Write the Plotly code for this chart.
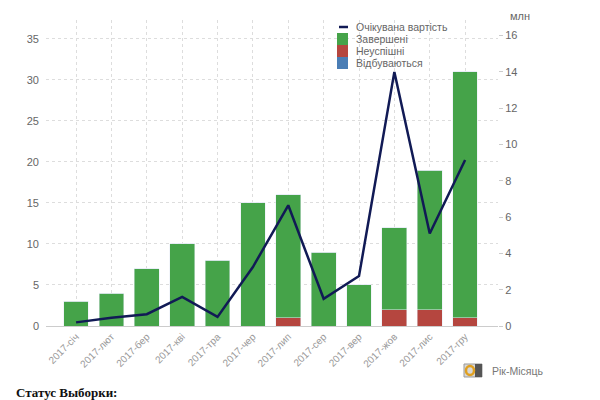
import plotly.graph_objects as go

months = ["2017-січ", "2017-лют", "2017-бер", "2017-кві", "2017-тра", "2017-чер",
          "2017-лип", "2017-сер", "2017-вер", "2017-жов", "2017-лис", "2017-гру"]
completed = [3, 4, 7, 10, 8, 15, 15, 9, 5, 10, 17, 30]
failed = [0, 0, 0, 0, 0, 0, 1, 0, 0, 2, 2, 1]
ongoing = [0, 0, 0, 0, 0, 0, 0, 0, 0, 0, 0, 0]
expected_value_mln = [0.2, 0.45, 0.65, 1.6, 0.5, 3.25, 6.65, 1.5, 2.75, 14.0, 5.1, 9.15]

GREEN = "#45a349"
RED = "#b5463f"
BLUE = "#4a7db5"
NAVY = "#111a55"
FONT = "Liberation Sans, Arial, sans-serif"

W, H = 600, 400
L, R, T, B = 38, 490, 12, 318  # plot area in pixels


def px(x):
    return (x - L) / (R - L)


def py(y):
    return (B - y) / (B - T)


fig = go.Figure()
fig.add_trace(go.Scatter(x=months, y=expected_value_mln, name="Очікувана вартість",
                         mode="lines", line=dict(color=NAVY, width=2.5), yaxis="y2"))
fig.add_trace(go.Bar(x=months, y=failed, name="Неуспішні", marker_color=RED))
fig.add_trace(go.Bar(x=months, y=completed, name="Завершені", marker_color=GREEN))
fig.add_trace(go.Bar(x=months, y=ongoing, name="Відбуваються", marker_color=BLUE))

legend_items = [("Очікувана вартість", NAVY, "line"), ("Завершені", GREEN, "box"),
                ("Неуспішні", RED, "box"), ("Відбуваються", BLUE, "box")]

annotations = []
shapes = []
for i, (name, color, kind) in enumerate(legend_items):
    yc = 19 + 12 * i
    if kind == "line":
        shapes.append(dict(type="line", xref="paper", yref="paper",
                           x0=px(331), x1=px(340), y0=py(yc), y1=py(yc),
                           line=dict(color=color, width=2.5)))
    else:
        shapes.append(dict(type="rect", xref="paper", yref="paper",
                           x0=px(329), x1=px(340), y0=py(yc + 6), y1=py(yc - 6),
                           fillcolor=color, line=dict(width=0)))
    annotations.append(dict(text=name, xref="paper", yref="paper", x=px(346), y=py(yc),
                            xanchor="left", yanchor="middle", showarrow=False,
                            font=dict(size=10.5, color="#666")))

annotations += [
    dict(text="млн", xref="paper", yref="paper", x=px(500), y=py(0),
         xanchor="left", yanchor="top", showarrow=False,
         font=dict(size=11, color="#666")),
    dict(text="Рік-Місяць", xref="paper", yref="paper", x=px(482), y=py(363),
         xanchor="left", yanchor="middle", showarrow=False,
         font=dict(size=10.5, color="#777")),
    dict(text="<b>Статус Выборки:</b>", xref="paper", yref="paper",
         x=px(6), y=py(384), xanchor="left", yanchor="middle", showarrow=False,
         font=dict(family="Liberation Serif, Times New Roman, serif", size=13,
                   color="#111")),
]
shapes += [
    dict(type="rect", xref="paper", yref="paper", x0=px(456), x1=px(474),
         y0=py(369), y1=py(356), fillcolor="#d8d8d8", line=dict(color="#999", width=1)),
    dict(type="rect", xref="paper", yref="paper", x0=px(467), x1=px(474),
         y0=py(369), y1=py(356), fillcolor="#555", line=dict(width=0)),
    dict(type="circle", xref="paper", yref="paper", x0=px(458), x1=px(466),
         y0=py(367), y1=py(358), fillcolor="rgba(0,0,0,0)",
         line=dict(color="#e0a020", width=2.5)),
]

fig.update_layout(
    width=W, height=H,
    margin=dict(l=L, r=W - R, t=T, b=H - B, autoexpand=False),
    paper_bgcolor="white", plot_bgcolor="white",
    barmode="stack", bargap=0.3, showlegend=False,
    font=dict(family=FONT, size=11, color="#666"),
    xaxis=dict(type="category", range=[-0.85, 11.93], tickangle=-45, showgrid=True,
               gridcolor="#dddddd", griddash="dot", showline=True,
               linecolor="#cccccc", linewidth=1, ticks="", automargin=False,
               tickfont=dict(size=10, color="#999")),
    yaxis=dict(range=[0, 37.3], tickvals=[0, 5, 10, 15, 20, 25, 30, 35],
               showgrid=True, gridcolor="#dddddd", griddash="dot", automargin=False,
               zeroline=False, ticks="", ticklabelstandoff=6,
               tickfont=dict(size=11, color="#666")),
    yaxis2=dict(overlaying="y", side="right", range=[0, 16.86], automargin=False,
                tickvals=[0, 2, 4, 6, 8, 10, 12, 14, 16], showgrid=False,
                zeroline=False, ticks="outside", ticklen=4, tickcolor="#cccccc",
                tickfont=dict(size=11, color="#666")),
    annotations=annotations,
    shapes=shapes,
)

fig.write_html("out.html")
